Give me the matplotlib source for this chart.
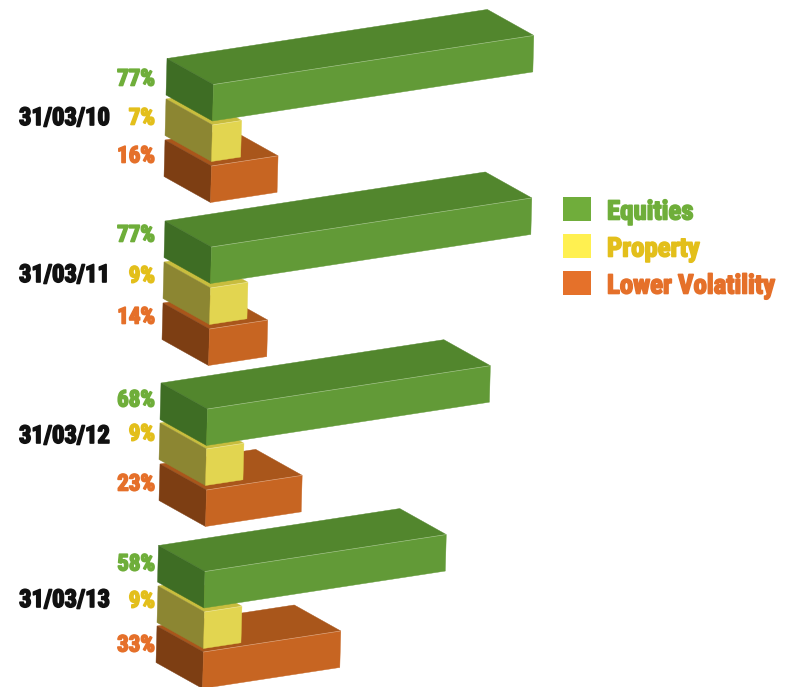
import numpy as np
import matplotlib
matplotlib.use("Agg")
import matplotlib.pyplot as plt
from matplotlib.patches import Polygon, Rectangle
import matplotlib.patheffects as pe

# valori
dates = ["31/03/10", "31/03/11", "31/03/12", "31/03/13"]
series_names = ["Equities", "Property", "Lower Volatility"]
equities = [77, 77, 68, 58]
property_ = [7, 9, 9, 9]
lower_vol = [16, 14, 23, 33]

# geometria in pixel
unit = np.array([4.16, -0.637])
depth = np.array([46.5, 26.0])
height = np.array([-1.0, 36.5])
green_xy = [(167, 58.5), (165, 221), (161, 383), (158.5, 545.5)]
yellow_xy = [(166, 99), (164, 262), (160, 423), (158, 586)]
orange_xy = [(165, 140), (163, 303), (160, 464), (157, 626)]
label_y = [(79, 118, 156), (235, 276, 317), (400, 434, 484), (564, 601, 645)]
date_y = [118, 275, 436, 600]

# top, left, front
green_c = ("#52862d", "#3e6d24", "#629a37")
yellow_c = ("#c8bd3e", "#8c8632", "#e2d550")
orange_c = ("#a9561b", "#7d3e13", "#c76522")
text_c = ["#6fae3a", "#e3bf1b", "#e5702a"]
legend_c = ["#70ad3b", "#fff050", "#e5712a"]
legend_y = [209, 246, 283]
font = ["Roboto Condensed", "Liberation Sans"]


def draw_box(ax, xy, value, colors):
    p = np.array(xy, dtype=float)
    f = p + depth
    along = value * unit
    top = [p, f, f + along, p + along]
    left = [p, f, f + height, p + height]
    front = [f, f + along, f + along + height, f + height]
    for pts, c in zip((top, left, front), colors):
        ax.add_patch(Polygon(pts, closed=True, fc=c, ec=c, lw=0.3))
    ax.plot(*zip(f, f + along), color="white", lw=0.5, alpha=0.35)


def put_text(ax, x, y, s, color, size, ha="right"):
    t = ax.text(x, y, s, color=color, fontsize=size, fontweight="bold",
                family=font, ha=ha, va="center")
    t.set_path_effects([pe.withStroke(linewidth=1.2, foreground=color)])


fig = plt.figure(figsize=(7.87, 6.87), dpi=100)
ax = fig.add_axes([0, 0, 1, 1])
ax.set_xlim(0, 787)
ax.set_ylim(687, 0)
ax.axis("off")

for i in range(len(dates)):
    draw_box(ax, orange_xy[i], lower_vol[i], orange_c)
    draw_box(ax, yellow_xy[i], property_[i], yellow_c)
    draw_box(ax, green_xy[i], equities[i], green_c)
    vals = (equities[i], property_[i], lower_vol[i])
    for v, y, c in zip(vals, label_y[i], text_c):
        put_text(ax, 155, y, f"{v}%", c, 16.5)
    put_text(ax, 110, date_y[i], dates[i], "#111111", 17.7)

for name, y, c, tc in zip(series_names, legend_y, legend_c, text_c):
    ax.add_patch(Rectangle((563, y - 12), 28, 24, fc=c, ec="none"))
    put_text(ax, 607, y + 3, name, tc, 19.3, ha="left")

fig.savefig("out.png", dpi=100)
